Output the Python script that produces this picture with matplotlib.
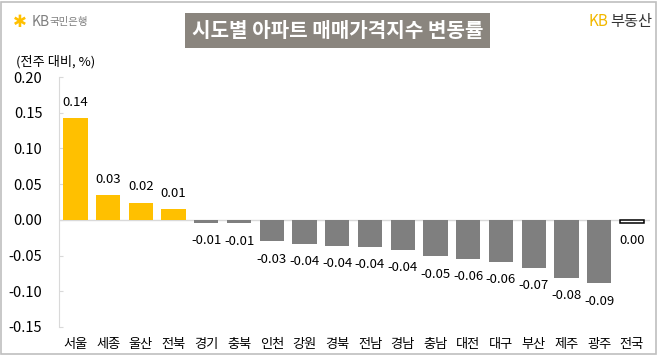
import matplotlib.pyplot as plt
from matplotlib.patches import Rectangle

plt.rcParams['font.family'] = ['Noto Sans CJK KR', 'DejaVu Sans']

regions = ["서울", "세종", "울산", "전북", "경기", "충북", "인천", "강원", "경북",
           "전남", "경남", "충남", "대전", "대구", "부산", "제주", "광주", "전국"]
changes = [0.143, 0.035, 0.024, 0.015, -0.004, -0.005, -0.030, -0.034, -0.036,
           -0.038, -0.042, -0.051, -0.055, -0.059, -0.067, -0.081, -0.089, -0.004]
labels = ["0.14", "0.03", "0.02", "0.01", "-0.01", "-0.01", "-0.03", "-0.04", "-0.04",
          "-0.04", "-0.04", "-0.05", "-0.06", "-0.06", "-0.07", "-0.08", "-0.09", "0.00"]
yticks = [0.20, 0.15, 0.10, 0.05, 0.00, -0.05, -0.10, -0.15]

fig = plt.figure(figsize=(6.58, 3.55), dpi=100)
ax = fig.add_axes([0.0897, 0.079, 0.898, 0.704])

x = range(len(regions))
colors = []
for i, v in enumerate(changes):
    if regions[i] == "전국":
        colors.append("white")
    elif v > 0:
        colors.append("#FFC000")
    else:
        colors.append("#7F7F7F")
bars = ax.bar(x, changes, width=0.74, color=colors, zorder=2)
bars[-1].set_edgecolor("black")
bars[-1].set_linewidth(1.1)

# labels sit outside the bar end, like excel
for i, v in enumerate(changes):
    if v > 0:
        ax.text(i, v + 0.022, labels[i], ha="center", va="center", fontsize=9.5)
    else:
        ax.text(i, v - 0.025, labels[i], ha="center", va="center", fontsize=9.5)

ax.axhline(0, color="#D9D9D9", lw=1, zorder=1)
ax.set_xlim(-0.5, len(regions) - 0.45)
ax.set_ylim(-0.15, 0.20)
ax.set_yticks(yticks)
ax.set_yticklabels([f"{t:.2f}" for t in yticks], fontsize=10.5)
ax.set_xticks(list(x))
ax.set_xticklabels(regions, fontsize=9.5)
ax.tick_params(axis="x", length=0, pad=8)
ax.tick_params(axis="y", length=3, direction="in", color="#D9D9D9", pad=12)
for s in ["top", "right", "bottom"]:
    ax.spines[s].set_visible(False)
ax.spines["left"].set_color("#D9D9D9")

# title box and logos
fig.text(0.513, 0.913, "시도별 아파트 매매가격지수 변동률", ha="center", va="center",
         fontsize=14.5, fontweight="bold", color="white",
         bbox=dict(boxstyle="square,pad=0.35", fc="#8A857E", ec="none"))
fig.text(0.03, 0.937, "✱", fontsize=12, color="#FFC000", ha="center", va="center",
         family=["DejaVu Sans"])
fig.text(0.048, 0.937, "KB", fontsize=10, color="#7F7F7F", ha="left", va="center")
fig.text(0.075, 0.937, "국민은행", fontsize=7.5, color="#7F7F7F", ha="left", va="center")
fig.text(0.925, 0.94, "KB", fontsize=11, color="#F2B800", ha="right", va="center")
fig.text(0.927, 0.94, "부동산", fontsize=11, color="#333333", ha="left", va="center")
fig.text(0.025, 0.825, "(전주 대비, %)", fontsize=9.5, ha="left", va="center")

fig.patches.append(Rectangle((0.002, 0.003), 0.995, 0.992, transform=fig.transFigure,
                             fill=False, ec="#BFBFBF", lw=1.2))

fig.savefig("out.png", dpi=100)
